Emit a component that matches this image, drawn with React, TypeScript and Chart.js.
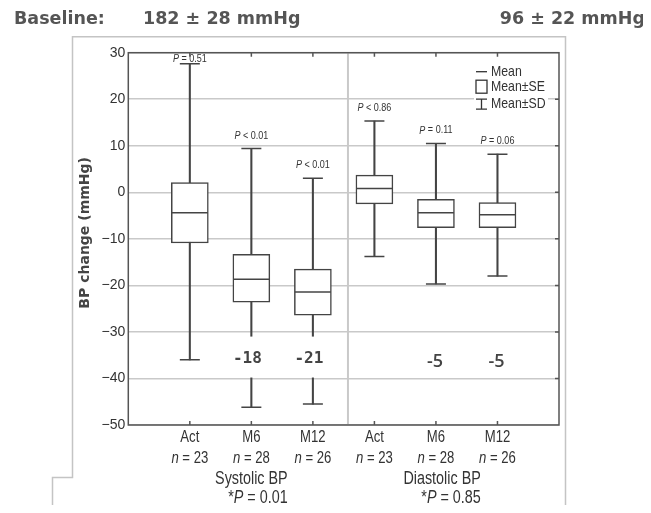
import React, { useEffect, useRef } from "react";
import { Chart, registerables } from "chart.js";

Chart.register(...registerables);

// ---------- data ----------
const categories = ["Act", "M6", "M12", "Act", "M6", "M12"];
const nCounts = [23, 28, 26, 23, 28, 26];
const catX = [1, 2, 3, 4, 5, 6];
const means = [-4.4, -18.7, -21.4, 0.8, -4.4, -4.8];
const seLow = [-10.9, -23.6, -26.4, -2.5, -7.6, -7.6];
const seHigh = [2.1, -13.3, -16.5, 3.7, -1.5, -2.2];
const sdLow = [-36.0, -46.2, -45.5, -13.8, -19.7, -18.0];
const sdHigh = [27.6, 9.4, 3.0, 15.3, 10.5, 8.2];
const pLabels = ["= 0.51", "< 0.01", "< 0.01", "< 0.86", "= 0.11", "= 0.06"];
const changeLabels = ["", "-18", "-21", "", "-5", "-5"];
const changeLabelY = -35.8;
const gapRange = [-31, -39.8];
const groupNames = ["Systolic BP", "Diastolic BP"];
const groupCenters = [2.0, 5.1];
const groupP = ["0.01", "0.85"];
const baselineLabel = "Baseline:";
const baselines = ["182 ± 28 mmHg", "96 ± 22 mmHg"];
const yMin = -50;
const yMax = 30;
const yStep = 10;
const xMin = 0;
const xMax = 7;
const dividerX = 3.57;
const legendItems = ["Mean", "Mean±SE", "Mean±SD"];

const SANS = "'Liberation Sans', Arial, sans-serif";
const NARROW_SX = 0.82;
const DARK = "#444";

type Seg = { t: string; italic?: boolean };

function drawRich(
  ctx: CanvasRenderingContext2D,
  segs: Seg[],
  x: number,
  y: number,
  align: "center" | "left" | "right",
  size: number,
  color: string,
  sx = NARROW_SX
) {
  const fontFor = (s: Seg) => `${s.italic ? "italic " : ""}${size}px ${SANS}`;
  let total = 0;
  const widths = segs.map((s) => {
    ctx.font = fontFor(s);
    const w = ctx.measureText(s.t).width * sx;
    total += w;
    return w;
  });
  let cx = align === "center" ? x - total / 2 : align === "right" ? x - total : x;
  ctx.save();
  ctx.fillStyle = color;
  ctx.textAlign = "left";
  ctx.textBaseline = "middle";
  segs.forEach((s, i) => {
    ctx.font = fontFor(s);
    ctx.save();
    ctx.translate(cx, y);
    ctx.scale(sx, 1);
    ctx.fillText(s.t, 0, 0);
    ctx.restore();
    cx += widths[i];
  });
  ctx.restore();
  return total;
}

const decoPlugin = {
  id: "deco",
  beforeDraw(chart: any) {
    const { ctx } = chart;
    ctx.save();
    ctx.strokeStyle = "#c4c4c4";
    ctx.lineWidth = 1.5;
    ctx.beginPath();
    ctx.moveTo(565.5, 513);
    ctx.lineTo(565.5, 36.8);
    ctx.lineTo(72.5, 36.8);
    ctx.lineTo(72.5, 477.5);
    ctx.lineTo(52.5, 477.5);
    ctx.lineTo(52.5, 513);
    ctx.stroke();
    ctx.restore();
  },
  beforeDatasetsDraw(chart: any) {
    const { ctx, chartArea: a, scales } = chart;
    const x = scales.x;
    ctx.save();
    ctx.strokeStyle = "#c9c9c9";
    ctx.lineWidth = 2;
    const dx = x.getPixelForValue(dividerX);
    ctx.beginPath();
    ctx.moveTo(dx, a.top);
    ctx.lineTo(dx, a.bottom);
    ctx.stroke();
    ctx.restore();
  },
  afterDatasetsDraw(chart: any) {
    const { ctx, chartArea: a, scales } = chart;
    const x = scales.x;
    const y = scales.y;
    ctx.save();
    // change labels with white gap
    changeLabels.forEach((lab, i) => {
      if (!lab) return;
      const px = x.getPixelForValue(catX[i]);
      if (sdLow[i] < gapRange[1]) {
        const t = y.getPixelForValue(gapRange[0]);
        const b = y.getPixelForValue(gapRange[1]);
        ctx.fillStyle = "#fff";
        ctx.fillRect(px - 10, t, 20, b - t);
      }
      const py = y.getPixelForValue(changeLabelY);
      ctx.fillStyle = DARK;
      ctx.textAlign = "center";
      ctx.textBaseline = "middle";
      if (i < 3) {
        ctx.font = "bold 16px 'DejaVu Sans Mono', monospace";
        ctx.fillText(lab, px - 4, py);
      } else {
        ctx.font = "600 18px 'Open Sans', sans-serif";
        ctx.fillText(lab, px - 1, py + 3);
      }
    });
    // P labels
    pLabels.forEach((lab, i) => {
      const px = x.getPixelForValue(catX[i]);
      const cap = y.getPixelForValue(sdHigh[i]);
      const py = Math.max(cap - 13, a.top + 6);
      drawRich(ctx, [{ t: "P", italic: true }, { t: " " + lab }], px, py, "center", 11, "#333");
    });
    // border
    ctx.strokeStyle = "#555";
    ctx.lineWidth = 1.5;
    ctx.strokeRect(a.left, a.top, a.right - a.left, a.bottom - a.top);
    // ticks
    ctx.beginPath();
    catX.forEach((v) => {
      const px = x.getPixelForValue(v);
      ctx.moveTo(px, a.bottom);
      ctx.lineTo(px, a.bottom - 4);
      ctx.moveTo(px, a.top);
      ctx.lineTo(px, a.top + 4);
    });
    for (let v = yMin + yStep; v < yMax; v += yStep) {
      const py = y.getPixelForValue(v);
      ctx.moveTo(a.right, py);
      ctx.lineTo(a.right - 4, py);
    }
    ctx.stroke();
    // legend
    const lx = a.right - 83;
    ctx.fillStyle = "#fff";
    ctx.fillRect(lx - 2, a.top + 10, 74, 50);
    ctx.strokeStyle = "#333";
    ctx.lineWidth = 1.3;
    ctx.beginPath();
    ctx.moveTo(lx, a.top + 19);
    ctx.lineTo(lx + 11, a.top + 19);
    ctx.stroke();
    ctx.strokeRect(lx, a.top + 27.5, 11, 13);
    ctx.beginPath();
    ctx.moveTo(lx, a.top + 46.5);
    ctx.lineTo(lx + 11, a.top + 46.5);
    ctx.moveTo(lx + 5.5, a.top + 46.5);
    ctx.lineTo(lx + 5.5, a.top + 56.5);
    ctx.moveTo(lx, a.top + 56.5);
    ctx.lineTo(lx + 11, a.top + 56.5);
    ctx.stroke();
    const ly = [a.top + 19, a.top + 34.5, a.top + 51];
    legendItems.forEach((t, i) => drawRich(ctx, [{ t }], lx + 15, ly[i], "left", 15, "#333"));
    ctx.restore();
  },
  afterDraw(chart: any) {
    const { ctx, chartArea: a, scales } = chart;
    const x = scales.x;
    ctx.save();
    // header
    ctx.fillStyle = "#555";
    ctx.textBaseline = "middle";
    ctx.font = "bold 17.5px 'DejaVu Sans', sans-serif";
    ctx.textAlign = "left";
    ctx.fillText(baselineLabel, 14, 19);
    ctx.fillText(baselines[0], 143, 19);
    ctx.textAlign = "right";
    ctx.fillText(baselines[1], 645, 19);
    // y title
    ctx.save();
    ctx.translate(a.left - 43, (a.top + a.bottom) / 2 - 6);
    ctx.rotate(-Math.PI / 2);
    ctx.fillStyle = DARK;
    ctx.font = "bold 14px 'DejaVu Sans', sans-serif";
    ctx.textAlign = "center";
    ctx.textBaseline = "middle";
    ctx.fillText("BP change (mmHg)", 0, 0);
    ctx.restore();
    // x labels
    categories.forEach((c, i) => {
      const px = x.getPixelForValue(catX[i]);
      drawRich(ctx, [{ t: c }], px, a.bottom + 13, "center", 16, "#333");
      drawRich(ctx, [{ t: "n", italic: true }, { t: " = " + nCounts[i] }], px, a.bottom + 34, "center", 16, "#333");
    });
    groupNames.forEach((g, i) => {
      const px = x.getPixelForValue(groupCenters[i]);
      ctx.font = `17.5px ${SANS}`;
      const w = ctx.measureText(g).width * NARROW_SX;
      drawRich(ctx, [{ t: g }], px, a.bottom + 54, "center", 17.5, "#333");
      drawRich(ctx, [{ t: "*" }, { t: "P", italic: true }, { t: " = " + groupP[i] }], px + w / 2, a.bottom + 73, "right", 17.5, "#333");
    });
    ctx.restore();
  },
};

export default function App() {
  const ref = useRef<HTMLCanvasElement | null>(null);
  useEffect(() => {
    if (!ref.current) return;
    const whiskers = catX.map((v, i) => ({ x: v, y: [sdLow[i], sdHigh[i]] }));
    const boxes = catX.map((v, i) => ({ x: v, y: [seLow[i], seHigh[i]] }));
    const meanPts = catX.map((v, i) => ({ x: v, y: means[i] }));
    const capPts = catX.flatMap((v, i) => [
      { x: v, y: sdLow[i] },
      { x: v, y: sdHigh[i] },
    ]);
    const chart = new Chart(ref.current, {
      type: "bar",
      data: {
        datasets: [
          {
            type: "bar",
            data: whiskers as any,
            backgroundColor: DARK,
            borderWidth: 0,
            barThickness: 1.4,
            grouped: false,
            order: 3,
          } as any,
          {
            type: "bar",
            data: boxes as any,
            backgroundColor: "#fff",
            borderColor: DARK,
            borderWidth: 1.5,
            borderSkipped: false,
            barThickness: 37,
            grouped: false,
            order: 2,
          } as any,
          {
            type: "line",
            data: meanPts,
            showLine: false,
            pointStyle: "line",
            pointRadius: 18,
            pointBorderColor: DARK,
            pointBorderWidth: 1.5,
            order: 1,
          } as any,
          {
            type: "line",
            data: capPts,
            showLine: false,
            pointStyle: "line",
            pointRadius: 10,
            pointBorderColor: DARK,
            pointBorderWidth: 1.5,
            order: 1,
          } as any,
        ],
      },
      options: {
        animation: false,
        responsive: false,
        devicePixelRatio: 1,
        layout: { padding: { left: 0, top: 52.7, right: 92, bottom: 88 } },
        plugins: { legend: { display: false }, tooltip: { enabled: false } },
        scales: {
          x: {
            type: "linear",
            min: xMin,
            max: xMax,
            display: false,
            offset: false,
          },
          y: {
            type: "linear",
            min: yMin,
            max: yMax,
            afterFit: (s: any) => {
              s.width = 128.3;
            },
            ticks: {
              stepSize: yStep,
              padding: 3,
              color: "#333",
              font: { size: 14, family: SANS },
              callback: (v: any) => (Number(v) < 0 ? "\u2212" + Math.abs(Number(v)) : String(v)),
            },
            grid: { color: "#c9c9c9", lineWidth: 1.5, drawTicks: false },
            border: { display: false },
          },
        },
      } as any,
      plugins: [decoPlugin],
    });
    return () => chart.destroy();
  }, []);

  return (
    <div style={{ position: "relative", width: 651, height: 513, margin: -8, background: "#fff" }}>
      <canvas ref={ref} width={651} height={513} style={{ display: "block", width: 651, height: 513 }} />
    </div>
  );
}
